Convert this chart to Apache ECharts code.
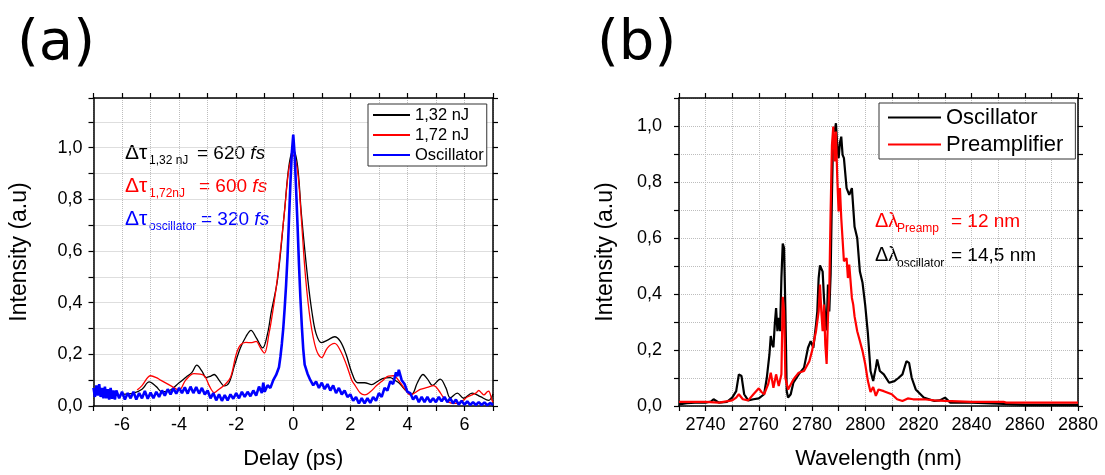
<!DOCTYPE html>
<html>
<head>
<meta charset="utf-8">
<script src="https://cdn.jsdelivr.net/npm/echarts@6/dist/echarts.min.js"></script>
<style>
html,body{margin:0;padding:0;background:#fff;}
#chart{width:1105px;height:475px;}
</style>
</head>
<body>
<div id="chart"></div>
<script>
// ---- Panel (a): autocorrelation traces, [delay (ps), intensity] ----
const delay132 = [
[-6.0,0.045],[-5.6,0.05],[-5.3,0.065],[-5.05,0.093],[-4.8,0.075],[-4.6,0.055],[-4.3,0.062],[-4.0,0.09],
[-3.75,0.112],[-3.55,0.13],[-3.38,0.158],[-3.2,0.135],[-3.05,0.11],[-2.9,0.115],[-2.77,0.122],[-2.6,0.1],
[-2.42,0.078],[-2.25,0.09],[-2.05,0.16],[-1.85,0.225],[-1.65,0.27],[-1.48,0.293],[-1.3,0.265],[-1.07,0.225],
[-0.9,0.28],[-0.77,0.364],[-0.55,0.49],[-0.31,0.75],[-0.15,0.93],[0,0.99],[0.15,0.93],[0.28,0.75],
[0.51,0.49],[0.66,0.36],[0.8,0.28],[0.99,0.245],[1.2,0.255],[1.45,0.268],[1.65,0.25],[1.85,0.2],
[2.05,0.13],[2.25,0.09],[2.5,0.09],[2.75,0.083],[2.95,0.095],[3.15,0.107],[3.4,0.11],[3.55,0.1],
[3.7,0.09],[3.9,0.065],[4.15,0.045],[4.35,0.09],[4.55,0.122],[4.7,0.105],[4.88,0.08],[5.15,0.104],
[5.35,0.07],[5.5,0.032],[5.75,0.05],[5.97,0.03],[6.27,0.05],[6.56,0.036],[6.85,0.022],[7.0,0.047]
];
const delay172 = [
[-5.47,0.062],[-5.3,0.079],[-5.0,0.117],[-4.8,0.11],[-4.65,0.1],[-4.3,0.079],[-4.0,0.062],[-3.77,0.1],
[-3.48,0.125],[-3.12,0.117],[-2.95,0.08],[-2.77,0.052],[-2.6,0.065],[-2.42,0.08],[-2.2,0.11],[-2.0,0.2],
[-1.85,0.236],[-1.66,0.246],[-1.45,0.245],[-1.3,0.25],[-1.15,0.225],[-1.01,0.205],[-0.85,0.28],[-0.72,0.364],
[-0.55,0.5],[-0.3,0.76],[-0.15,0.92],[0,0.97],[0.15,0.91],[0.28,0.73],[0.43,0.5],[0.6,0.33],
[0.8,0.22],[0.99,0.187],[1.2,0.225],[1.45,0.242],[1.65,0.215],[1.87,0.158],[2.05,0.1],[2.16,0.081],
[2.35,0.05],[2.51,0.043],[2.7,0.055],[2.92,0.079],[3.15,0.1],[3.33,0.116],[3.51,0.117],[3.75,0.09],
[3.95,0.06],[4.1,0.043],[4.45,0.064],[4.7,0.072],[4.92,0.079],[5.1,0.06],[5.27,0.032],[5.45,0.015],
[5.62,0.01],[5.8,0.012],[5.97,0.023],[6.1,0.035],[6.27,0.043],[6.4,0.05],[6.5,0.06],[6.6,0.05],
[6.68,0.043],[6.8,0.055],[6.85,0.057],[6.97,0.02],[7.0,0.015]
];
const delayOsc = [
[-7.0,0.07],[-6.95,0.035],[-6.9,0.08],[-6.85,0.04],[-6.8,0.085],[-6.75,0.035],[-6.7,0.07],[-6.65,0.03],
[-6.6,0.075],[-6.55,0.03],[-6.5,0.065],[-6.45,0.025],[-6.4,0.07],[-6.35,0.028],[-6.3,0.06],[-6.25,0.025],
[-6.2,0.06],[-6.1,0.03],[-6.0,0.055],[-5.9,0.025],[-5.8,0.05],[-5.7,0.03],[-5.6,0.055],[-5.5,0.025],
[-5.4,0.05],[-5.3,0.03],[-5.2,0.058],[-5.1,0.028],[-5.0,0.052],[-4.9,0.03],[-4.8,0.055],[-4.7,0.035],
[-4.6,0.06],[-4.5,0.04],[-4.4,0.065],[-4.3,0.045],[-4.2,0.068],[-4.1,0.048],[-4.0,0.07],[-3.9,0.05],
[-3.8,0.072],[-3.7,0.048],[-3.6,0.075],[-3.5,0.05],[-3.4,0.073],[-3.3,0.048],[-3.2,0.07],[-3.1,0.045],
[-3.0,0.06],[-2.9,0.03],[-2.8,0.05],[-2.7,0.022],[-2.6,0.045],[-2.5,0.02],[-2.4,0.042],[-2.3,0.022],
[-2.2,0.045],[-2.1,0.028],[-2.0,0.05],[-1.9,0.03],[-1.8,0.055],[-1.7,0.035],[-1.6,0.055],[-1.5,0.038],
[-1.4,0.06],[-1.3,0.04],[-1.2,0.075],[-1.1,0.05],[-1.05,0.09],[-1.0,0.055],[-0.9,0.08],[-0.8,0.07],
[-0.7,0.1],[-0.6,0.12],[-0.5,0.15],[-0.45,0.19],[-0.4,0.24],[-0.35,0.3],[-0.3,0.38],[-0.25,0.47],
[-0.2,0.58],[-0.15,0.72],[-0.1,0.86],[-0.05,0.98],[0,1.05],[0.05,0.97],[0.1,0.84],[0.15,0.7],
[0.2,0.55],[0.25,0.42],[0.3,0.31],[0.35,0.22],[0.4,0.16],[0.5,0.125],[0.6,0.1],[0.7,0.08],
[0.8,0.095],[0.9,0.07],[1.0,0.09],[1.1,0.065],[1.2,0.085],[1.3,0.06],[1.4,0.08],[1.5,0.05],
[1.6,0.07],[1.7,0.045],[1.8,0.06],[1.9,0.035],[2.0,0.045],[2.1,0.02],[2.2,0.035],[2.3,0.01],
[2.4,0.03],[2.5,0.01],[2.6,0.03],[2.7,0.012],[2.8,0.035],[2.9,0.02],[3.0,0.05],[3.1,0.035],
[3.2,0.07],[3.3,0.06],[3.4,0.095],[3.5,0.085],[3.6,0.13],[3.65,0.115],[3.7,0.14],[3.8,0.1],
[3.9,0.085],[4.0,0.055],[4.1,0.05],[4.2,0.025],[4.3,0.04],[4.4,0.015],[4.5,0.035],[4.6,0.015],
[4.7,0.035],[4.8,0.015],[4.9,0.03],[5.0,0.015],[5.1,0.035],[5.2,0.018],[5.3,0.035],[5.4,0.015],
[5.5,0.03],[5.6,0.01],[5.7,0.025],[5.8,0.005],[5.9,0.02],[6.0,0.005],[6.1,0.018],[6.2,0.004],
[6.3,0.015],[6.4,0.004],[6.5,0.015],[6.6,0.004],[6.7,0.014],[6.8,0.003],[6.9,0.012],[7.0,0.004]
];

// ---- Panel (b): spectra, [wavelength (nm), intensity] ----
const specOsc = [
[2730,0.006],[2733,0.01],[2736,0.012],[2740,0.012],[2742,0.016],[2743,0.024],[2744,0.018],[2745,0.012],
[2748,0.015],[2750,0.03],[2751.5,0.053],[2752.5,0.113],[2753.5,0.107],[2754.5,0.042],[2756,0.02],[2758,0.024],
[2760,0.027],[2762,0.042],[2763,0.10],[2764,0.184],[2764.5,0.25],[2765,0.22],[2765.5,0.21],[2766,0.29],
[2766.5,0.35],[2767,0.267],[2767.5,0.315],[2768,0.267],[2768.5,0.457],[2769,0.58],[2769.5,0.564],[2770,0.34],
[2770.5,0.053],[2771,0.03],[2772,0.042],[2773,0.083],[2775,0.113],[2777,0.137],[2778.5,0.208],[2779.5,0.232],
[2780.5,0.208],[2781.5,0.29],[2782,0.338],[2782.5,0.457],[2783,0.502],[2784,0.48],[2784.5,0.386],[2785,0.315],
[2785.5,0.27],[2786,0.434],[2786.5,0.338],[2787,0.47],[2787.5,0.754],[2788,0.99],[2788.5,0.98],[2789,1.01],
[2789.5,0.93],[2790,0.885],[2790.5,0.94],[2791,0.962],[2791.5,0.897],[2792,0.885],[2793,0.778],[2794,0.754],
[2795,0.778],[2796,0.64],[2797,0.6],[2798,0.48],[2799,0.44],[2800,0.36],[2801,0.26],[2802,0.125],
[2803,0.089],[2804,0.137],[2804.5,0.166],[2805.5,0.125],[2807,0.113],[2809,0.083],[2811,0.089],[2812.5,0.10],
[2814,0.113],[2815.5,0.16],[2816.5,0.154],[2817.5,0.10],[2819,0.059],[2822,0.03],[2826,0.018],[2828,0.02],
[2830,0.03],[2832,0.012],[2840,0.012],[2850,0.008],[2860,0.004],[2880,0.004]
];
const specPre = [
[2730,0.015],[2740,0.015],[2745,0.012],[2750,0.02],[2751.5,0.03],[2752.5,0.042],[2754,0.024],[2756,0.02],
[2758,0.042],[2760,0.063],[2761,0.05],[2762,0.042],[2763.5,0.077],[2764.5,0.119],[2765.5,0.065],[2766.5,0.113],
[2767.5,0.071],[2768.5,0.113],[2769,0.39],[2769.5,0.34],[2770,0.10],[2771,0.059],[2773,0.095],[2775,0.119],
[2777,0.125],[2779,0.16],[2780,0.196],[2781.5,0.267],[2782.5,0.338],[2783,0.434],[2783.5,0.338],[2784,0.267],
[2784.5,0.362],[2785,0.22],[2785.5,0.15],[2786,0.315],[2786.5,0.41],[2787,0.695],[2787.5,0.932],[2788,0.998],
[2788.5,0.873],[2789,0.98],[2789.5,0.814],[2790,0.695],[2790.5,0.778],[2791,0.671],[2792,0.517],[2793,0.528],
[2793.5,0.457],[2794,0.505],[2795,0.386],[2795.5,0.362],[2796,0.32],[2797,0.267],[2798,0.232],[2799,0.196],
[2800,0.15],[2801,0.09],[2802,0.05],[2803,0.068],[2804,0.036],[2805,0.059],[2807,0.053],[2810,0.042],
[2812,0.024],[2814,0.018],[2816,0.027],[2818,0.024],[2822,0.024],[2826,0.02],[2830,0.018],[2840,0.015],
[2852,0.015],[2853,0.012],[2880,0.012]
];

const legendA = ['1,32 nJ', '1,72 nJ', 'Oscillator'];
const legendB = ['Oscillator ', 'Preamplifier'];

const FONT = 'Liberation Sans, Arial, sans-serif';
const frame = {lineStyle:{color:'#000', width:1.5}};
const tick = {show:true, length:5, lineStyle:{color:'#000', width:1.2}};
const grid = {show:true, lineStyle:{color:'#bdbdbd', type:'dotted', width:1}};
const yFmt = v => { const k = Math.round(v*10); return (k % 2 === 0 && k <= 10) ? (k/10).toFixed(1).replace('.', ',') : ''; };

function baseX(gi, min, max, interval, fmt, pos, name) {
  const o = {
    type:'value', gridIndex:gi, min:min, max:max, interval:interval, position:pos,
    axisLine:{show:true, onZero:false, lineStyle:frame.lineStyle}, axisTick:tick,
    splitLine: pos === 'bottom' ? grid : {show:false},
    axisLabel: pos === 'bottom'
      ? {show:true, formatter:fmt, fontSize:18, color:'#000', fontFamily:FONT, margin:10, showMinLabel:true, showMaxLabel:true}
      : {show:false}
  };
  if (name) {
    o.name = name; o.nameLocation = 'middle'; o.nameGap = 42;
    o.nameTextStyle = {fontSize:22, color:'#000', fontFamily:FONT};
  }
  return o;
}
function baseY(gi, max, pos, margin, name) {
  const o = {
    type:'value', gridIndex:gi, min:0, max:max, interval:0.1, position:pos,
    axisLine:{show:true, onZero:false, lineStyle:frame.lineStyle}, axisTick:tick,
    splitLine: pos === 'left' ? grid : {show:false},
    axisLabel: pos === 'left'
      ? {show:true, formatter:yFmt, fontSize:18, color:'#000', fontFamily:FONT, margin:margin}
      : {show:false}
  };
  if (name) {
    o.name = name; o.nameLocation = 'middle'; o.nameGap = 62;
    o.nameTextStyle = {fontSize:23, color:'#000', fontFamily:FONT};
  }
  return o;
}

const fmtDelay = v => (Math.round(v) % 2 === 0 && Math.abs(v) < 6.5) ? String(Math.round(v)) : '';
const fmtWl = v => (Math.round(v) % 20 === 0) ? String(Math.round(v)) : '';

function txt(x, y, text, color, size, family) {
  return {type:'text', x:x, y:y, silent:true,
    style:{text:text, fill:color, fontSize:size, fontFamily:family || FONT, verticalAlign:'middle', align:'left'}};
}
function rtxt(x, y, text, color) {
  return {type:'text', x:x, y:y, silent:true,
    style:{text:text, fill:color, fontSize:19, fontFamily:FONT, verticalAlign:'middle', align:'left',
      rich:{i:{fill:color, fontSize:19, fontFamily:FONT, fontStyle:'italic'}}}};
}

const option = {
  animation:false,
  backgroundColor:'#fff',
  grid:[
    {left:93.5, top:98, width:399.5, height:310},
    {left:679, top:98, width:399, height:310}
  ],
  xAxis:[
    baseX(0, -7, 7, 1, fmtDelay, 'bottom', 'Delay (ps)'),
    baseX(0, -7, 7, 1, null, 'top'),
    baseX(1, 2730, 2880, 10, fmtWl, 'bottom', 'Wavelength (nm)'),
    baseX(1, 2730, 2880, 10, null, 'top')
  ],
  yAxis:[
    baseY(0, 1.192, 'left', 11, 'Intensity (a.u)'),
    baseY(0, 1.192, 'right', 8),
    baseY(1, 1.1, 'left', 17, 'Intensity (a.u)'),
    baseY(1, 1.1, 'right', 8)
  ],
  legend:[
    {data:legendA, left:368, top:104, orient:'vertical', selectedMode:false, icon:'rect',
     itemWidth:37, itemHeight:2, itemGap:0, padding:[1,3,1,5],
     borderColor:'#333', borderWidth:1, backgroundColor:'#fff',
     textStyle:{fontSize:16.5, lineHeight:20, color:'#000', fontFamily:FONT}},
    {data:legendB, left:879, top:103, orient:'vertical', selectedMode:false, icon:'rect',
     itemWidth:53, itemHeight:2, itemGap:0, padding:[1,12,1,9],
     borderColor:'#333', borderWidth:1, backgroundColor:'#fff',
     textStyle:{fontSize:22, lineHeight:27, color:'#000', fontFamily:FONT}}
  ],
  series:[
    {name:legendA[0], type:'line', xAxisIndex:0, yAxisIndex:0, data:delay132, showSymbol:false, symbol:'none',
     smooth:0.35, lineStyle:{color:'#000', width:1.3}, itemStyle:{color:'#000'}},
    {name:legendA[1], type:'line', xAxisIndex:0, yAxisIndex:0, data:delay172, showSymbol:false, symbol:'none',
     smooth:0.35, lineStyle:{color:'#ff0000', width:1.3}, itemStyle:{color:'#ff0000'}},
    {name:legendA[2], type:'line', xAxisIndex:0, yAxisIndex:0, data:delayOsc, showSymbol:false, symbol:'none',
     sampling:null, lineStyle:{color:'#0000ff', width:2.6}, itemStyle:{color:'#0000ff'}},
    {name:legendB[0], type:'line', xAxisIndex:2, yAxisIndex:2, data:specOsc, showSymbol:false, symbol:'none',
     lineStyle:{color:'#000', width:2.2}, itemStyle:{color:'#000'}},
    {name:legendB[1], type:'line', xAxisIndex:2, yAxisIndex:2, data:specPre, showSymbol:false, symbol:'none',
     lineStyle:{color:'#ff0000', width:2.2}, itemStyle:{color:'#ff0000'}}
  ],
  graphic:[
    txt(17, 44, '(a)', '#000', 56, 'DejaVu Sans'),
    txt(597, 44, '(b)', '#000', 56, 'DejaVu Sans'),
    // panel (a) annotations
    txt(125, 153.4, 'Δτ', '#000', 21), txt(149, 161, '1,32 nJ', '#000', 12), rtxt(197, 153.4, '= 620 {i|fs}', '#000'),
    txt(125, 186.4, 'Δτ', '#ff0000', 21), txt(149, 194, '1,72nJ', '#ff0000', 12), rtxt(199, 186.4, '= 600 {i|fs}', '#ff0000'),
    txt(125, 219.4, 'Δτ', '#0000ff', 21), txt(149, 227, 'oscillator', '#0000ff', 12), rtxt(201, 219.4, '= 320 {i|fs}', '#0000ff'),
    // panel (b) annotations
    txt(875, 221.4, 'Δλ', '#ff0000', 20), txt(897, 229, 'Preamp', '#ff0000', 12), txt(951, 221.4, '= 12 nm', '#ff0000', 19),
    txt(875, 255.4, 'Δλ', '#000', 20), txt(897, 264, 'oscillator', '#000', 12), txt(951, 255.4, '= 14,5 nm', '#000', 19)
  ]
};

const chart = echarts.init(document.getElementById('chart'), null, {renderer:'canvas'});
chart.setOption(option);
</script>
</body>
</html>
